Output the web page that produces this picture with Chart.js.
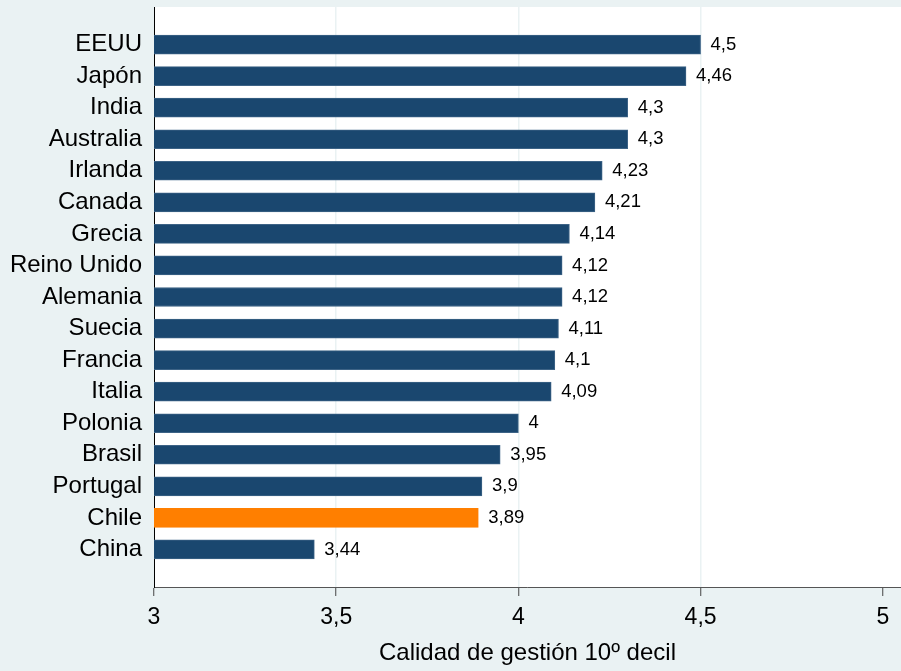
<!DOCTYPE html>
<html>
<head>
<meta charset="utf-8">
<script src="https://cdn.jsdelivr.net/npm/chart.js@4"></script>
<style>
  html, body { margin: 0; padding: 0; background: #eaf2f3; }
  canvas { display: block; }
</style>
</head>
<body>
<canvas id="c" width="901" height="671"></canvas>
<script>
// values, top bar first
var countries = ['EEUU', 'Japón', 'India', 'Australia', 'Irlanda', 'Canada', 'Grecia', 'Reino Unido',
  'Alemania', 'Suecia', 'Francia', 'Italia', 'Polonia', 'Brasil', 'Portugal', 'Chile', 'China'];
var scores = [4.5, 4.46, 4.3, 4.3, 4.23, 4.21, 4.14, 4.12, 4.12, 4.11, 4.1, 4.09, 4, 3.95, 3.9, 3.89, 3.44];
var xTicks = [3, 3.5, 4, 4.5, 5];
var highlight = 'Chile';

var FONT = "'Liberation Sans', Arial, sans-serif";
var NAVY = '#1a476f', ORANGE = '#ff7f00', BG = '#eaf2f3';

function comma(v) { return String(v).replace('.', ','); }

// stata-ish backdrop: tinted page, white plot region
var backdrop = {
  id: 'backdrop',
  beforeDraw: function (chart) {
    var ctx = chart.ctx, a = chart.chartArea;
    ctx.save();
    ctx.fillStyle = BG;
    ctx.fillRect(0, 0, chart.width, chart.height);
    ctx.fillStyle = '#fff';
    ctx.fillRect(a.left, a.top, a.right - a.left, a.bottom - a.top);
    ctx.restore();
  }
};

// value text just past the end of each bar
var barValues = {
  id: 'barValues',
  afterDatasetsDraw: function (chart) {
    var ctx = chart.ctx;
    ctx.save();
    ctx.font = '18.5px ' + FONT;
    ctx.fillStyle = '#000';
    ctx.textAlign = 'left';
    ctx.textBaseline = 'middle';
    chart.getDatasetMeta(0).data.forEach(function (bar, i) {
      ctx.fillText(comma(scores[i]), bar.x + 10, bar.y);
    });
    ctx.restore();
  }
};

new Chart(document.getElementById('c'), {
  type: 'bar',
  data: {
    datasets: [{
      data: countries.map(function (c, i) { return { x: scores[i], y: i }; }),
      backgroundColor: countries.map(function (c) { return c === highlight ? ORANGE : NAVY; }),
      borderColor: countries.map(function (c) { return c === highlight ? ORANGE : '#3d6386'; }),
      borderWidth: 1,
      borderSkipped: false,
      barThickness: 19
    }]
  },
  options: {
    indexAxis: 'y',
    responsive: false,
    animation: false,
    devicePixelRatio: 1,
    layout: { padding: { top: 7, left: 0, right: 0, bottom: 0 } },
    plugins: { legend: { display: false }, tooltip: { enabled: false } },
    scales: {
      x: {
        type: 'linear',
        min: 3, max: 5.05,
        afterBuildTicks: function (s) { s.ticks = xTicks.map(function (v) { return { value: v }; }); },
        afterFit: function (s) { s.height = 84; s.paddingLeft = 0; s.paddingRight = 0; },
        ticks: { callback: function (v) { return comma(v); }, color: '#000', font: { family: FONT, size: 23 }, padding: 8 },
        grid: {
          color: function (c) { return c.tick && c.tick.value > 3 && c.tick.value < 5 ? BG : 'rgba(0,0,0,0)'; },
          lineWidth: 1.5,
          tickColor: '#444',
          tickLength: 9,
          tickWidth: 1
        },
        border: { color: '#555', width: 1 },
        title: { display: true, text: 'Calidad de gestión 10º decil', color: '#000',
                 font: { family: FONT, size: 24 }, padding: { top: 0, bottom: 3 } }
      },
      y: {
        type: 'linear',
        reverse: true,
        offset: false,
        min: -1.19, max: 17.19,
        afterBuildTicks: function (s) { s.ticks = countries.map(function (c, i) { return { value: i }; }); },
        afterFit: function (s) { s.width = 154; s.paddingTop = 0; s.paddingBottom = 0; },
        ticks: { callback: function (v) { return countries[v]; }, autoSkip: false, color: '#000',
                 font: { family: FONT, size: 24 }, padding: 12 },
        grid: { display: false, drawTicks: false, offset: false },
        border: { color: '#000', width: 1 }
      }
    }
  },
  plugins: [backdrop, barValues]
});
</script>
</body>
</html>
